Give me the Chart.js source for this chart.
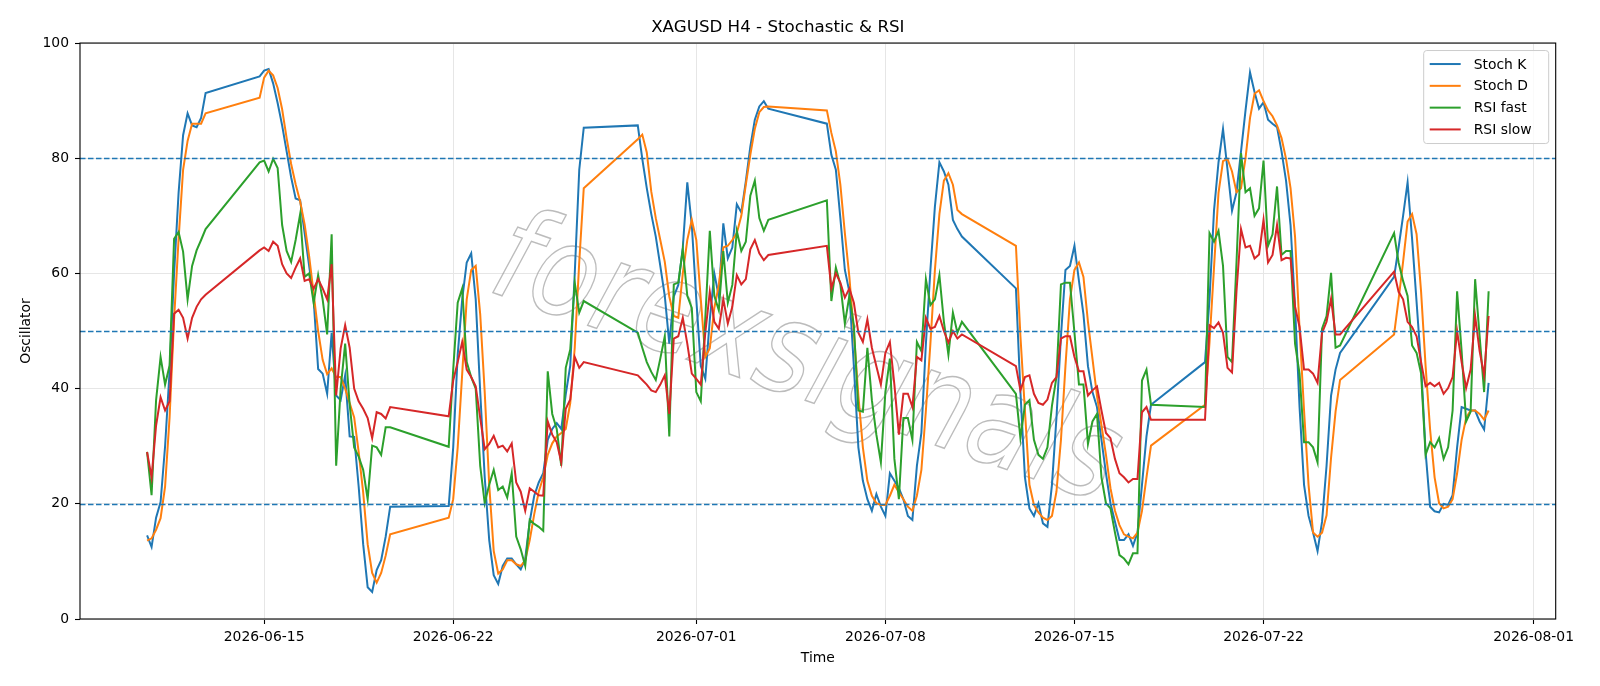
<!DOCTYPE html>
<html>
<head>
<meta charset="utf-8">
<title>XAGUSD H4 - Stochastic &amp; RSI</title>
<script src="https://cdn.jsdelivr.net/npm/chart.js@4.4.1/dist/chart.umd.min.js"></script>
<style>
  html, body { margin: 0; padding: 0; background: #fff; }
  #wrap { width: 1600px; height: 686px; position: relative; }
</style>
</head>
<body>
<div id="wrap"><canvas id="osc-chart"></canvas></div>
<script>
// H4 trading sessions: first bar (UTC) and number of 4h bars
const sessions = [
  ["2026-06-10T16:00", 14],
  ["2026-06-14T20:00", 30],
  ["2026-06-21T20:00", 31],
  ["2026-06-28T20:00", 30],
  ["2026-07-05T20:00", 31],
  ["2026-07-12T20:00", 31],
  ["2026-07-19T20:00", 31],
  ["2026-07-26T20:00", 22]
];

const tickLabels = ["2026-06-15", "2026-06-22", "2026-07-01", "2026-07-08", "2026-07-15", "2026-07-22", "2026-08-01"];
const yTicks = [0, 20, 40, 60, 80, 100];
const levelLines = [20, 50, 80];

const stochK = [
  14.5, 12.5, 17.6, 20.3, 30, 43, 60, 74, 84, 87.8, 85.7, 85.4, 87, 91.3,
  94.2, 95.2, 95.5, 93, 89.6, 85.7, 81.2, 76.7, 73, 72.7, 67, 61.3, 55.5, 43.4, 42.6, 39.1, 49.7, 38.8, 38, 42.3, 31.7, 31.6, 23, 13, 5.5, 4.7, 8.5, 10.2, 14.3, 19.5,
  19.6, 29.8, 45.9, 55.5, 61.9, 63.5, 55.5, 39.4, 24.6, 13.7, 7.6, 6.1, 9.2, 10.5, 10.5, 9.5, 8.6, 10.5, 16.9, 21.4, 23.7, 25.3, 31.1, 33, 34, 33, 39, 44, 60, 78, 85.3,
  85.7, 79.9, 74.8, 70.3, 66.4, 61.3, 56.1, 47.8, 56, 58, 64.5, 75.8, 68.4, 55.5, 43.9, 41.7, 52, 60, 56, 68.7, 62.6, 64.5, 72, 70.6, 76, 82, 86.7, 89, 89.9, 88.6,
  86, 80.6, 78, 69.6, 60.6, 56.8, 43.9, 29.8, 24, 20.8, 18.8, 21.7, 19.5, 17.9, 25.3, 24, 22.7, 20.8, 17.9, 17.2, 26.6, 32.3, 47.8, 60.6, 71.6, 79.3, 77.7, 75.4, 69.3, 67.7, 66.4,
  57.4, 39.4, 24.6, 19.2, 17.9, 20.1, 16.6, 16, 23.3, 34.9, 49.1, 60.6, 61.3, 64.8, 58.7, 52.9, 43.9, 39.4, 36.8, 31.1, 25.3, 20.1, 16.9, 13.7, 13.7, 14.7, 12.7, 15, 23.3, 31.7, 37.2,
  44.6, 55.5, 70.9, 79.3, 85.1, 78, 70.9, 74.1, 81.2, 88.3, 94.9, 91.5, 88.6, 89.7, 86.7, 86, 85.4, 81.2, 76.1, 68.4, 54.2, 36.8, 23.3, 17.9, 15, 11.8, 16.9, 26.6, 38.8, 43.3, 46.2,
  59.4, 64.5, 70, 75.8, 66, 55, 44, 29, 19.5, 18.7, 18.5, 20, 19.8, 21.5, 29.8, 36.8, 36.5, 36.2, 36.2, 34.3, 32.9, 41
];

const stochD = [
  13.6, 14, 15.5, 17.5, 23, 35, 52, 66, 78, 83, 86, 86, 86, 87.8,
  90.5, 94, 95.2, 94.4, 92.2, 88.5, 83.5, 79, 75.5, 72.5, 68.5, 63, 56.5, 50, 45, 42.5, 43.5, 42, 42, 40, 37.5, 35, 29, 22, 13, 8, 6.3, 8, 11, 14.7,
  17.6, 20.8, 29.8, 42.6, 55.5, 60.6, 61.3, 52.9, 39.4, 23.3, 11.8, 7.9, 8.6, 10.2, 10.2, 9.5, 9.2, 10.2, 13.7, 18.2, 22.1, 24.6, 28.5, 30.5, 31.7, 32.3, 33, 37.5, 47.1, 62, 74.8,
  83.3, 84.1, 81, 74.2, 69.6, 65.8, 62, 56, 52.6, 52.3, 60, 65.8, 69.3, 65.8, 55.5, 45.5, 47, 54, 58, 64.5, 64.8, 65.8, 67, 70, 75.4, 80.6, 85.1, 88, 88.9, 89,
  88.3, 84.4, 81.2, 75.4, 67, 59.4, 49.7, 38.8, 29.8, 24, 21.4, 20.1, 19.8, 19.8, 21.4, 23.3, 22, 20.8, 19.5, 18.8, 21.4, 25.9, 36.2, 47.8, 60.6, 70.3, 76.1, 77.4, 75.4, 71, 70.3,
  64.8, 49.1, 36.2, 23.3, 19.8, 18.5, 17.6, 17.2, 17.9, 22.1, 31.1, 43.9, 55.5, 60.6, 61.9, 59.4, 51.6, 45.2, 38.8, 33.6, 28.5, 22.7, 18.8, 16.3, 14.7, 14.3, 14, 15, 18.8, 24.6, 30.1,
  37.2, 48, 61, 74, 79.5, 79.9, 77.7, 74.1, 74.8, 80, 87, 91.2, 91.8, 89.9, 88.3, 87.3, 85.7, 83.5, 79.9, 74.8, 66.4, 50.4, 36.2, 23.3, 15, 14.3, 15, 18, 28, 36, 41.5,
  49.4, 55.5, 62, 69, 70.3, 66.8, 56.8, 43.9, 32.9, 24.6, 20.1, 19.2, 19.5, 20.8, 25.3, 31.1, 34.9, 36.2, 36.2, 35.6, 34.6, 36.2
];

const rsiFast = [
  29, 21.5, 38, 45.5, 40.7, 44, 66, 67.2, 63.8, 55.5, 61.3, 64, 65.8, 67.7,
  79.3, 79.6, 77.7, 79.9, 78.3, 68.4, 63.9, 62, 65.8, 70.3, 59.4, 60, 54.9, 59.7, 55.5, 49.4, 66.8, 26.6, 40, 47.8, 37.2, 29.8, 28.2, 25.9, 20.8, 30.1, 29.8, 28.5, 33.3, 33.3,
  29.9, 43.3, 54.9, 57.4, 44.6, 42, 40, 26.6, 20.1, 23.3, 25.9, 22.4, 23, 21.1, 25.3, 14.3, 12.1, 9.2, 17.2, 16.5, 16, 15.3, 43, 35.6, 33, 26.6, 43.6, 46.8, 58.4, 53.2, 55.2,
  49.7, 47.1, 44.6, 42.9, 41.5, 45.2, 49.1, 31.7, 58.1, 58.4, 64.2, 56.1, 54, 39.4, 37.8, 52.3, 67.4, 56.1, 53.6, 63.9, 54.9, 58, 67.4, 63.9, 65.5, 73.5, 76.1, 69.6, 67.4, 69.3,
  72.7, 55.2, 61, 58.1, 51.3, 56.1, 51, 36.2, 36, 47.1, 38, 32, 27.2, 39.4, 45.2, 27.8, 20.8, 34.9, 34.9, 31.1, 48.1, 46.5, 59, 54.5, 55.5, 59.7, 51.6, 45.9, 53.2, 49.7, 51.6,
  39.1, 31.4, 37.2, 38, 31.1, 28.5, 27.8, 29.8, 37, 42, 58.1, 58.4, 58.4, 49.7, 40.7, 40.7, 30.4, 34.3, 35.6, 24.6, 20.1, 19.2, 15, 11.1, 10.5, 9.5, 11.4, 11.4, 41.4, 43.3, 37.2,
  36.8, 67, 65.5, 67.4, 61.3, 45.5, 44.6, 62, 80.9, 74.1, 74.8, 70, 71.3, 79.6, 64.8, 66.8, 75.1, 63.2, 63.9, 63.9, 47.8, 42.6, 30.7, 30.7, 29.8, 27.2, 50.4, 52.6, 60.1, 47.1, 47.5,
  67, 61.9, 58.7, 56.1, 47.5, 46.2, 42.6, 28.5, 30.7, 29.8, 31.4, 27.8, 29.8, 36.2, 56.9, 46.5, 34.3, 36, 59, 49.1, 39.4, 56.9
];

const rsiSlow = [
  29, 24.6, 33.6, 38.5, 36.2, 37.8, 53, 53.7, 52.3, 48.7, 52.3, 54.2, 55.5, 56.3,
  64, 64.5, 63.9, 65.5, 64.8, 61.6, 60, 59.2, 61, 62.6, 58.7, 59, 57.3, 59, 57.4, 55.5, 61.6, 38.8, 47, 51, 47.1, 40, 37.8, 36.5, 34.9, 31.4, 35.9, 35.6, 34.8, 36.8,
  35.2, 41.4, 44.6, 48.1, 43.3, 42, 40.4, 34.9, 29.5, 30.4, 31.8, 29.8, 30.1, 29.1, 30.5, 23.7, 22.1, 18.8, 22.7, 22.1, 21.5, 21.4, 34.3, 32, 30.7, 27.2, 36.5, 38.1, 45.5, 43.6, 44.6,
  42.3, 41.5, 40.7, 39.7, 39.4, 40.7, 42.3, 35.6, 48.7, 49.1, 52.3, 47.8, 42.6, 41.7, 40.7, 49.7, 56.8, 51.6, 50.4, 55.5, 51.3, 54.2, 59.7, 58.1, 59, 64.2, 65.8, 63.5, 62.3, 63.2,
  64.8, 57.4, 60, 58.4, 55.8, 57.4, 54.9, 49.7, 48.1, 52, 47.1, 43.9, 40.7, 46.2, 48.1, 40.7, 32, 39.1, 39.1, 36.8, 45.5, 44.9, 52.3, 50.4, 50.7, 52.6, 50, 48, 50, 48.7, 49.4,
  43.9, 39.7, 42, 42.3, 39.1, 37.5, 37.2, 38.1, 41, 42, 48.7, 49.1, 49.1, 45.5, 43, 43, 38.8, 39.7, 40.4, 36.2, 32.3, 31.4, 27.8, 25.3, 24.6, 23.7, 24.3, 24.3, 35.9, 36.8, 34.6,
  34.6, 51, 50.5, 51.5, 49.7, 43.6, 42.8, 57, 67.7, 64.5, 64.8, 62.6, 63.3, 69.3, 61.9, 63.2, 68.4, 62.3, 62.7, 62.6, 54.2, 50.7, 43.3, 43.3, 42.6, 41, 49.7, 51.6, 55.6, 49.4, 49.4,
  60.3, 56.8, 55.5, 51.6, 50.7, 49.1, 44.6, 40.4, 41, 40.4, 41, 39.1, 40.1, 42, 50, 44.6, 40.1, 43.3, 52.6, 46.5, 42.3, 52.6
];

// bar timestamps (ms, UTC) from the sessions above
const barTimes = [];
sessions.forEach(([start, n]) => {
  const t0 = Date.parse(start + ":00Z");
  for (let i = 0; i < n; i++) barTimes.push(t0 + i * 4 * 3600 * 1000);
});
const tickValues = tickLabels.map(s => Date.parse(s + "T00:00:00Z"));
const span = barTimes[barTimes.length - 1] - barTimes[0];
const xMin = barTimes[0] - 0.05 * span;
const xMax = barTimes[barTimes.length - 1] + 0.05 * span;

const FONT = "'DejaVu Sans', sans-serif";
const toPoints = arr => arr.map((v, i) => ({ x: barTimes[i], y: v }));

const watermark = {
  id: 'watermark',
  beforeDatasetsDraw(chart) {
    const ctx = chart.ctx;
    ctx.save();
    ctx.translate(805, 365);
    ctx.rotate(19 * Math.PI / 180);
    ctx.scale(0.84, 1);
    ctx.font = "italic 128px " + FONT;
    ctx.textAlign = 'center';
    ctx.textBaseline = 'middle';
    ctx.strokeStyle = 'rgba(160,160,160,0.7)';
    ctx.lineWidth = 1.5;
    ctx.strokeText('forexsignals', 0, 0);
    ctx.restore();
  }
};

const levelsAndFrame = {
  id: 'levelsAndFrame',
  afterDatasetsDraw(chart) {
    const ctx = chart.ctx, a = chart.chartArea, y = chart.scales.y;
    ctx.save();
    ctx.strokeStyle = '#1f77b4';
    ctx.lineWidth = 1.4;
    ctx.setLineDash([5.5, 2.5]);
    levelLines.forEach(v => {
      const py = Math.round(y.getPixelForValue(v)) + 0.5;
      ctx.beginPath();
      ctx.moveTo(a.left, py);
      ctx.lineTo(a.right, py);
      ctx.stroke();
    });
    ctx.setLineDash([]);
    ctx.strokeStyle = '#000';
    ctx.lineWidth = 1.1;
    ctx.strokeRect(a.left, a.top, a.right - a.left, a.bottom - a.top);
    ctx.restore();
  }
};

const boxLegend = {
  id: 'boxLegend',
  afterDraw(chart) {
    const ctx = chart.ctx, a = chart.chartArea;
    const w = 125, h = 93;
    const x = a.right - 7 - w, y = a.top + 7.5;
    ctx.save();
    ctx.beginPath();
    if (ctx.roundRect) ctx.roundRect(x, y, w, h, 3); else ctx.rect(x, y, w, h);
    ctx.fillStyle = 'rgba(255,255,255,0.8)';
    ctx.fill();
    ctx.strokeStyle = '#cccccc';
    ctx.lineWidth = 1;
    ctx.stroke();
    ctx.font = "13.9px " + FONT;
    ctx.textBaseline = 'middle';
    chart.data.datasets.forEach((ds, i) => {
      const ry = y + 13.5 + i * 21.8;
      ctx.beginPath();
      ctx.moveTo(x + 6, ry);
      ctx.lineTo(x + 37, ry);
      ctx.strokeStyle = ds.borderColor;
      ctx.lineWidth = 2;
      ctx.stroke();
      ctx.fillStyle = '#000';
      ctx.fillText(ds.label, x + 50, ry + 1);
    });
    ctx.restore();
  }
};

new Chart(document.getElementById("osc-chart"), {
  type: 'line',
  data: {
    datasets: [
      { label: "Stoch K", data: toPoints(stochK), borderColor: "#1f77b4", order: 4 },
      { label: "Stoch D", data: toPoints(stochD), borderColor: "#ff7f0e", order: 3 },
      { label: "RSI fast", data: toPoints(rsiFast), borderColor: "#2ca02c", order: 2 },
      { label: "RSI slow", data: toPoints(rsiSlow), borderColor: "#d62728", order: 1 }
    ]
  },
  options: {
    responsive: true,
    maintainAspectRatio: false,
    animation: false,
    parsing: false,
    layout: { padding: { left: 0, right: 44.3, top: 0, bottom: 0 } },
    elements: {
      point: { radius: 0 },
      line: { borderWidth: 2, tension: 0, fill: false }
    },
    plugins: {
      legend: { display: false },
      tooltip: { enabled: false },
      title: {
        display: true,
        text: 'XAGUSD H4 - Stochastic & RSI',
        color: '#000',
        font: { family: FONT, size: 16.7, weight: 'normal', lineHeight: 1.2 },
        padding: { top: 18, bottom: 5 }
      }
    },
    scales: {
      x: {
        type: 'linear',
        min: xMin,
        max: xMax,
        afterBuildTicks: s => { s.ticks = tickValues.map(v => ({ value: v })); },
        afterFit: s => { s.height = 67; },
        grid: { color: '#e6e6e6', lineWidth: 1, tickColor: '#000', tickLength: 5, tickWidth: 1.1 },
        border: { display: false },
        ticks: {
          color: '#000',
          autoSkip: false,
          maxRotation: 0,
          padding: 5,
          font: { family: FONT, size: 13.9 },
          callback: v => new Date(v).toISOString().slice(0, 10)
        },
        title: {
          display: true,
          text: 'Time',
          color: '#000',
          font: { family: FONT, size: 13.9 },
          padding: { top: 0, bottom: 19.5 }
        }
      },
      y: {
        min: 0,
        max: 100,
        afterBuildTicks: s => { s.ticks = yTicks.map(v => ({ value: v })); },
        afterFit: s => { s.width = 80; },
        grid: { color: '#e6e6e6', lineWidth: 1, tickColor: '#000', tickLength: 5, tickWidth: 1.1 },
        border: { display: false },
        ticks: { color: '#000', padding: 6, font: { family: FONT, size: 13.9 } },
        title: {
          display: true,
          text: 'Oscillator',
          color: '#000',
          font: { family: FONT, size: 13.9 },
          padding: { top: 18, bottom: 0 }
        }
      }
    }
  },
  plugins: [watermark, levelsAndFrame, boxLegend]
});
</script>
</body>
</html>
